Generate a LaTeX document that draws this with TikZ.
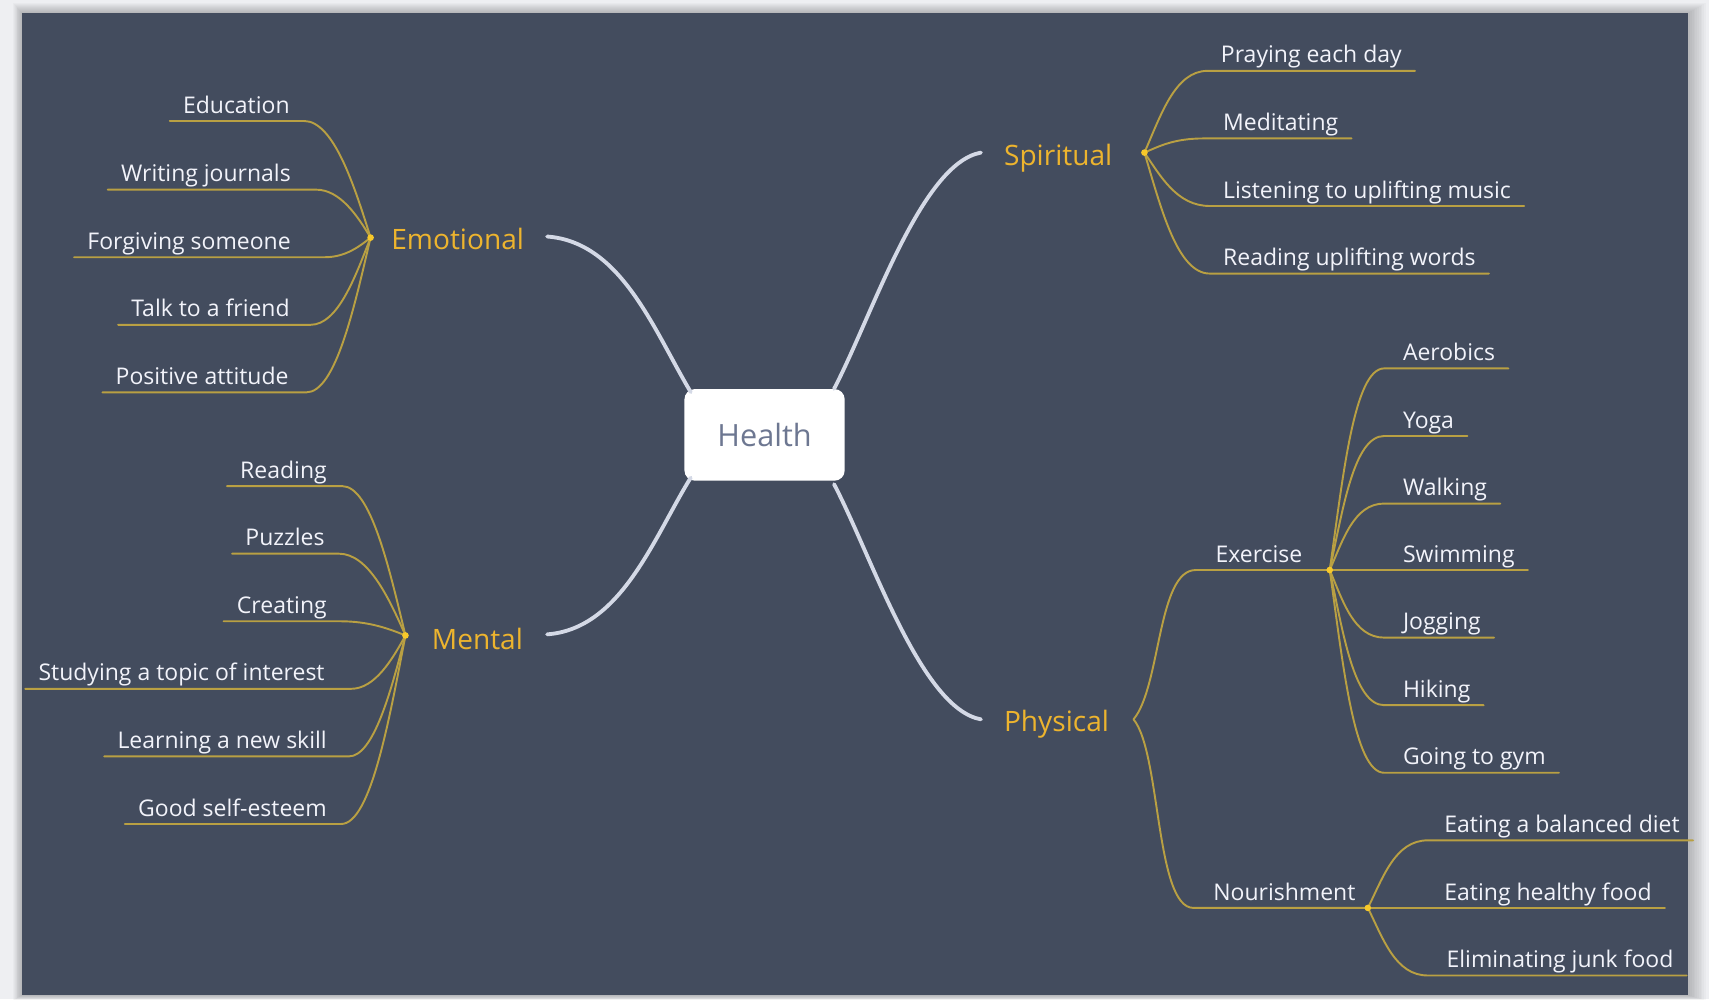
\documentclass[tikz,border=0pt]{standalone}
\usepackage{fontspec}
\setmainfont{Open Sans}
\usetikzlibrary{calc}
\definecolor{panel}{HTML}{434C5E}
\definecolor{outer}{HTML}{EEEFF2}
\definecolor{mainc}{HTML}{D4D9E6}
\definecolor{leafl}{HTML}{B9A043}
\definecolor{gold}{HTML}{EDB42E}
\definecolor{leaft}{HTML}{F2F3FA}
\definecolor{hubc}{HTML}{F7C82A}
\definecolor{healthc}{HTML}{6D7791}
\newcommand\leafL[7]{%
  \node[leaftext, anchor=south east] (#1) at (#2) {#3};
  \draw[leafline] ($(#1.south west)+(-12,0)$) -- ($(#1.south east)+(#4,0)$) .. controls +(#5) and +(#6) .. (#7);
}
\newcommand\leafR[7]{%
  \node[leaftext, anchor=south west] (#1) at (#2) {#3};
  \draw[leafline] (#7) .. controls +(#5) and +(#6) .. ($(#1.south west)+(-#4,0)$) -- ($(#1.south east)+(12,0)$);
}
\begin{document}
\begin{tikzpicture}[x=0.03cm,y=-0.03cm,
  main/.style={draw=mainc, line width=3pt, line cap=round},
  leafline/.style={draw=leafl, line width=1.5pt, line cap=round},
  branchtext/.style={text=gold, font=\fontsize{22}{24}\selectfont, inner sep=0pt},
  leaftext/.style={text=leaft, font=\fontsize{18}{20}\selectfont, inner xsep=0pt, inner ysep=1.5pt, text depth=4.5pt, text height=13pt},
]
\useasboundingbox (0,0) rectangle (1568,917);
% background and panel
\fill[outer] (0,0) rectangle (1568,917);
\foreach \i in {1,...,10}{
  \fill[black, opacity=0.025] (20-\i*0.8, 12-\i*0.9) rectangle (1549+\i*1.6, 913+\i*0.5);
}
\fill[panel] (20,12) rectangle (1549,913);

% central node
\node[fill=white, rounded corners=8pt, minimum width=4.41cm, minimum height=2.52cm,
      text=healthc, font=\fontsize{24}{26}\selectfont] (hb) at (701.5,399) {Health};

% main branches
\node[branchtext, anchor=base east] (emo) at (481,229) {Emotional};
\node[branchtext, anchor=base east] (men) at (480,596) {Mental};
\node[branchtext, anchor=base west] (spi) at (921,152) {Spiritual};
\node[branchtext, anchor=base west] (phy) at (921,671) {Physical};

\draw[main] ($(emo.base east)+(21,-12)$) .. controls +(68,5) and +(-34,-57) .. ($(hb.north west)+(6,3)$);
\draw[main] ($(men.base east)+(22,-14)$) .. controls +(68,-5) and +(-34,55) .. ($(hb.south west)+(6,-3)$);
\draw[main] ($(hb.north east)+(-10,0)$) .. controls +(35,-67) and +(-55,10) .. ($(spi.base west)+(-21,-12)$);
\draw[main] ($(hb.south east)+(-10,3)$) .. controls +(35,67) and +(-55,-10) .. ($(phy.base west)+(-21,-11)$);

% hubs
\coordinate (emoH) at (340,218);
\coordinate (menH) at (372,583);
\coordinate (spiH) at (1050,140);
\coordinate (phyH) at (1040,660);
\coordinate (exH) at (1220,523);
\coordinate (nouH) at (1255,833);

% Emotional leaves
\leafL{e1}{266,111}{Education}{13}{27,0}{-15,-48}{emoH}
\leafL{e2}{267,174}{Writing journals}{23}{22,0}{-12,-20}{emoH}
\leafL{e3}{267,236}{Forgiving someone}{31}{19,0}{-10,8}{emoH}
\leafL{e4}{266,298}{Talk to a friend}{19}{25,0}{-14,36}{emoH}
\leafL{e5}{265,360}{Positive attitude}{16}{27,0}{-15,64}{emoH}

% Mental leaves
\leafL{m1}{300,446}{Reading}{14}{26,0}{-15,-62}{menH}
\leafL{m2}{298,508}{Puzzles}{13}{27,0}{-15,-34}{menH}
\leafL{m3}{300,570}{Creating}{12}{27,0}{-15,-6}{menH}
\leafL{m4}{298,632}{Studying a topic of interest}{24}{22,0}{-12,22}{menH}
\leafL{m5}{300,694}{Learning a new skill}{20}{23,0}{-13,50}{menH}
\leafL{m6}{300,756}{Good self-esteem}{13}{27,0}{-15,78}{menH}

% Spiritual leaves
\leafR{s1}{1120,65}{Praying each day}{12}{15,-34}{-30,0}{spiH}
\leafR{s2}{1122,127}{Meditating}{17}{14,-6}{-28,0}{spiH}
\leafR{s3}{1122,189}{Listening to uplifting music}{12}{15,22}{-30,0}{spiH}
\leafR{s4}{1122,251}{Reading uplifting words}{12}{15,50}{-30,0}{spiH}

% Physical: Exercise and Nourishment
\node[leaftext, anchor=south west] (ex) at (1115,523) {Exercise};
\node[leaftext, anchor=south west] (nou) at (1113,833) {Nourishment};
\draw[leafline] (phyH) .. controls +(25,-30) and +(-35,0) .. ($(ex.south west)+(-18,0)$) -- (exH);
\draw[leafline] (phyH) .. controls +(25,30) and +(-35,0) .. ($(nou.south west)+(-18,0)$) -- (nouH);

\leafR{x1}{1287,338}{Aerobics}{17}{12,-83}{-28,0}{exH}
\leafR{x2}{1287,400}{Yoga}{17}{12,-55}{-28,0}{exH}
\leafR{x3}{1287,462}{Walking}{17}{12,-27}{-28,0}{exH}
\node[leaftext, anchor=south west] (x4) at (1287,523) {Swimming};
\draw[leafline] (exH) -- ($(x4.south east)+(12,0)$);
\leafR{x5}{1287,585}{Jogging}{17}{12,28}{-28,0}{exH}
\leafR{x6}{1287,647}{Hiking}{17}{12,56}{-28,0}{exH}
\leafR{x7}{1287,709}{Going to gym}{17}{12,84}{-28,0}{exH}

\leafR{n1}{1325,771}{Eating a balanced diet}{15}{14,-28}{-30,0}{nouH}
\node[leaftext, anchor=south west] (n2) at (1325,833) {Eating healthy food};
\draw[leafline] (nouH) -- ($(n2.south east)+(12,0)$);
\leafR{n3}{1327,895}{Eliminating junk food}{17}{14,28}{-30,0}{nouH}

% hub dots
\foreach \h in {emoH,menH,spiH,exH,nouH}{
  \fill[hubc] (\h) circle (2.6pt);
}
\end{tikzpicture}
\end{document}
